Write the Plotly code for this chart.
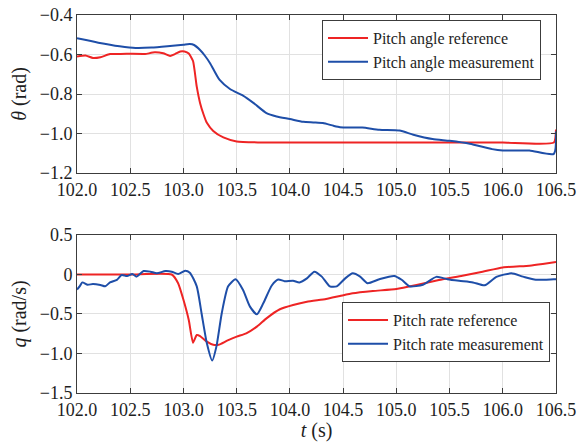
import plotly.graph_objects as go

# ---------------- data ----------------
t_ref_theta = [102.0, 102.08, 102.15, 102.22, 102.31, 102.41, 102.52, 102.62, 102.64, 102.73,
               102.81, 102.875, 102.92, 102.97, 103.01, 103.05, 103.09, 103.125, 103.156, 103.19,
               103.22, 103.28, 103.375, 103.5, 103.7, 104.0, 104.5, 105.0, 105.5, 106.0, 106.48, 106.5]
theta_ref = [-0.610, -0.605, -0.618, -0.614, -0.598, -0.597, -0.596, -0.597, -0.598, -0.589,
             -0.594, -0.607, -0.598, -0.585, -0.585, -0.595, -0.633, -0.763, -0.845, -0.905,
             -0.946, -0.987, -1.020, -1.040, -1.045, -1.046, -1.046, -1.046, -1.046, -1.046, -1.046, -0.98]

t_meas_theta = [102.0, 102.2, 102.4, 102.55, 102.7, 102.85, 103.0, 103.06, 103.1, 103.156,
                103.2, 103.25, 103.34, 103.44, 103.56, 103.66, 103.78, 103.875, 104.0, 104.125,
                104.22, 104.31, 104.41, 104.47, 104.56, 104.68, 104.84, 105.03, 105.16, 105.34,
                105.5, 105.69, 105.9, 106.0, 106.25, 106.48, 106.5]
theta_meas = [-0.518, -0.540, -0.558, -0.567, -0.565, -0.558, -0.550, -0.547, -0.552, -0.577,
              -0.605, -0.644, -0.729, -0.776, -0.808, -0.846, -0.897, -0.914, -0.927, -0.941,
              -0.944, -0.947, -0.961, -0.968, -0.970, -0.970, -0.981, -0.985, -1.006, -1.028,
              -1.037, -1.052, -1.079, -1.086, -1.086, -1.103, -0.99]

t_ref_q = [102.0, 102.5, 102.89, 102.95, 103.0, 103.05, 103.09, 103.125, 103.156, 103.22,
           103.28, 103.33, 103.41, 103.5, 103.59, 103.69, 103.78, 103.906, 104.03, 104.16,
           104.34, 104.47, 104.59, 104.78, 105.0, 105.19, 105.4, 105.62, 105.81, 106.0,
           106.25, 106.375, 106.5]
q_ref = [0.0, 0.0, 0.0, -0.111, -0.320, -0.576, -0.863, -0.766, -0.780, -0.850,
         -0.890, -0.890, -0.838, -0.787, -0.745, -0.660, -0.555, -0.440, -0.386, -0.344,
         -0.310, -0.272, -0.238, -0.209, -0.184, -0.133, -0.070, -0.015, 0.036, 0.090,
         0.112, 0.133, 0.158]

t_meas_q = [102.0, 102.03, 102.05, 102.1, 102.15, 102.22, 102.265, 102.31, 102.375, 102.42,
            102.47, 102.52, 102.56, 102.625, 102.69, 102.75, 102.83, 102.89, 102.95, 103.016,
            103.06, 103.125, 103.17, 103.22, 103.27, 103.31, 103.36, 103.42, 103.49, 103.56,
            103.625, 103.69, 103.75, 103.83, 103.89, 103.95, 104.03, 104.09, 104.16, 104.23,
            104.3, 104.375, 104.44, 104.52, 104.59, 104.66, 104.73, 104.84, 104.98, 105.05,
            105.125, 105.25, 105.375, 105.48, 105.59, 105.72, 105.83, 105.94, 106.08, 106.19,
            106.31, 106.48, 106.5]
q_meas = [-0.19, -0.14, -0.10, -0.13, -0.12, -0.133, -0.15, -0.10, -0.067, -0.006,
          -0.020, 0.006, -0.027, 0.044, 0.036, 0.015, 0.044, 0.036, 0.006, 0.048,
          0.023, -0.150, -0.490, -0.870, -1.090, -0.910, -0.490, -0.150, -0.060, -0.196,
          -0.407, -0.504, -0.365, -0.139, -0.063, -0.085, -0.080, -0.100, -0.049, 0.036,
          -0.027, -0.150, -0.150, -0.049, 0.015, -0.027, -0.110, -0.060, -0.019, -0.067,
          -0.150, -0.130, -0.030, -0.060, -0.080, -0.100, -0.137, -0.030, 0.015, -0.027,
          -0.067, -0.060, -0.060]

x_ticks = [102.0, 102.5, 103.0, 103.5, 104.0, 104.5, 105.0, 105.5, 106.0, 106.5]
y1_ticks = [-0.4, -0.6, -0.8, -1.0, -1.2]
y1_labels = ["−0.4", "−0.6", "−0.8", "−1.0", "−1.2"]
y2_ticks = [0.5, 0, -0.5, -1.0, -1.5]
y2_labels = ["0.5", "0", "−0.5", "−1.0", "−1.5"]

# ---------------- styling ----------------
RED = "rgb(238,36,36)"
BLUE = "rgb(30,78,168)"
FONT = "Liberation Serif"
FS = 18
TXT = "rgb(30,30,30)"

fig = go.Figure()
fig.add_trace(go.Scatter(x=t_ref_theta, y=theta_ref, mode="lines",
                         line=dict(color=RED, width=2, shape="spline", smoothing=0.5),
                         name="Pitch angle reference", xaxis="x", yaxis="y", legend="legend"))
fig.add_trace(go.Scatter(x=t_meas_theta, y=theta_meas, mode="lines",
                         line=dict(color=BLUE, width=2, shape="spline", smoothing=0.6),
                         name="Pitch angle measurement", xaxis="x", yaxis="y", legend="legend"))
fig.add_trace(go.Scatter(x=t_ref_q, y=q_ref, mode="lines",
                         line=dict(color=RED, width=2, shape="spline", smoothing=0.5),
                         name="Pitch rate reference", xaxis="x2", yaxis="y2", legend="legend2"))
fig.add_trace(go.Scatter(x=t_meas_q, y=q_meas, mode="lines",
                         line=dict(color=BLUE, width=2, shape="spline", smoothing=0.6),
                         name="Pitch rate measurement", xaxis="x2", yaxis="y2", legend="legend2"))

axis_common = dict(showgrid=True, gridcolor="rgb(225,225,225)", gridwidth=1,
                   showline=True, linecolor="rgb(60,60,60)", linewidth=1, mirror="ticks",
                   ticks="inside", ticklen=5, tickcolor="rgb(60,60,60)", automargin=False,
                   tickfont=dict(family=FONT, size=FS, color=TXT), zeroline=False)

title_font = dict(family=FONT, size=20, color=TXT)

legend_common = dict(xanchor="right", yanchor="middle", bgcolor="white",
                     bordercolor="rgb(60,60,60)", borderwidth=1,
                     font=dict(family=FONT, size=16, color=TXT),
                     tracegroupgap=0, itemwidth=40)

fig.update_layout(
    width=579, height=442,
    margin=dict(l=77, r=23, t=15, b=49),
    paper_bgcolor="white", plot_bgcolor="white",
    font=dict(family=FONT, size=FS, color=TXT),
    xaxis=dict(domain=[0, 1], range=[102.0, 106.5], tickvals=x_ticks, tickformat=".1f",
               anchor="y", **axis_common),
    yaxis=dict(domain=[0.582, 1], range=[-1.2, -0.4], tickvals=y1_ticks, ticktext=y1_labels,
               anchor="x", title=dict(text="<i>θ</i> (rad)", standoff=7, font=title_font),
               **axis_common),
    xaxis2=dict(domain=[0, 1], range=[102.0, 106.5], tickvals=x_ticks, tickformat=".1f",
                anchor="y2", title=dict(text="<i>t</i> (s)", standoff=8, font=title_font),
                **axis_common),
    yaxis2=dict(domain=[0, 0.418], range=[-1.5, 0.5], tickvals=y2_ticks, ticktext=y2_labels,
                anchor="x2", title=dict(text="<i>q</i> (rad/s)", standoff=7, font=title_font),
                **axis_common),
    legend=dict(x=0.9687, y=0.907, **legend_common),
    legend2=dict(x=0.9875, y=0.161, **legend_common),
    showlegend=True,
)

fig.write_html("out.html")
